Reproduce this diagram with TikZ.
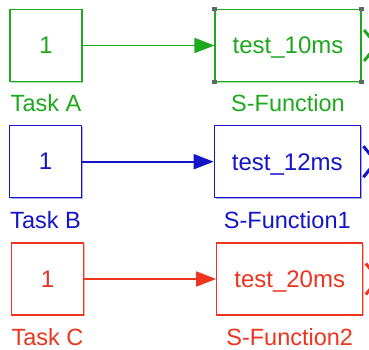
\documentclass[tikz,border=0pt]{standalone}
\usepackage{fontspec}
\setmainfont{Liberation Sans}
\usetikzlibrary{arrows.meta,positioning,shadows}

\definecolor{taskgreen}{RGB}{30,168,30}
\definecolor{taskblue}{RGB}{20,20,200}
\definecolor{taskred}{RGB}{236,52,30}
\definecolor{handle}{RGB}{95,105,95}

\begin{document}
\begin{tikzpicture}[x=1pt, y=1pt,
  node distance=12.5pt,
  blk/.style={draw=#1, fill=white, text=#1, line width=1.2pt, inner sep=0pt, text depth=0pt,
    font=\fontsize{24}{28}\selectfont,
    drop shadow={shadow xshift=1.2pt, shadow yshift=-1.2pt, fill=#1!80, opacity=0.45}},
  cnst/.style={blk=#1, minimum width=72pt, minimum height=72pt},
  sfun/.style={blk=#1, minimum width=146pt, minimum height=72pt},
  lbl/.style={inner sep=0pt, text=#1, font=\fontsize{23.5}{28}\selectfont},
  sig/.style={draw=#1, line width=1.8pt, -{Triangle[length=20pt, width=15pt]}},
  port/.style={draw=#1, line width=3pt, miter limit=10},
  hnd/.style={fill=handle, minimum size=4.5pt, inner sep=0pt}
]
\useasboundingbox (0,0) rectangle (369,349);

% Task A -> S-Function
\node[cnst=taskgreen] (taskA) at (46,303.5) {1};
\node[sfun=taskgreen] (sfunA) at (288,303.5) {test\_10ms};
\node[lbl=taskgreen, below=of taskA] (taskAlbl) {Task A};
\node[lbl=taskgreen, below=of sfunA] (sfunAlbl) {S-Function};
\draw[sig=taskgreen] (taskA.east) -- (sfunA.west);
\draw[port=taskgreen] ([shift={(2.5,15.5)}]sfunA.east) -- ([xshift=15]sfunA.east) -- ([shift={(2.5,-15.5)}]sfunA.east);
\foreach \c/\n in {north west/1, north east/2, south west/3, south east/4}
  \node[hnd] (hnd\n) at (sfunA.\c) {};

% Task B -> S-Function1
\node[cnst=taskblue] (taskB) at (45.5,187.3) {1};
\node[sfun=taskblue] (sfunB) at (287.3,187.3) {test\_12ms};
\node[lbl=taskblue, below=of taskB] (taskBlbl) {Task B};
\node[lbl=taskblue, below=of sfunB] (sfunBlbl) {S-Function1};
\draw[sig=taskblue] (taskB.east) -- (sfunB.west);
\draw[port=taskblue] ([shift={(2.5,15.5)}]sfunB.east) -- ([xshift=15]sfunB.east) -- ([shift={(2.5,-15.5)}]sfunB.east);

% Task C -> S-Function2
\node[cnst=taskred] (taskC) at (47.5,70) {1};
\node[sfun=taskred] (sfunC) at (289.7,70) {test\_20ms};
\node[lbl=taskred, below=of taskC] (taskClbl) {Task C};
\node[lbl=taskred, below=of sfunC] (sfunClbl) {S-Function2};
\draw[sig=taskred] (taskC.east) -- (sfunC.west);
\draw[port=taskred] ([shift={(2.5,15.5)}]sfunC.east) -- ([xshift=15]sfunC.east) -- ([shift={(2.5,-15.5)}]sfunC.east);
\end{tikzpicture}
\end{document}
